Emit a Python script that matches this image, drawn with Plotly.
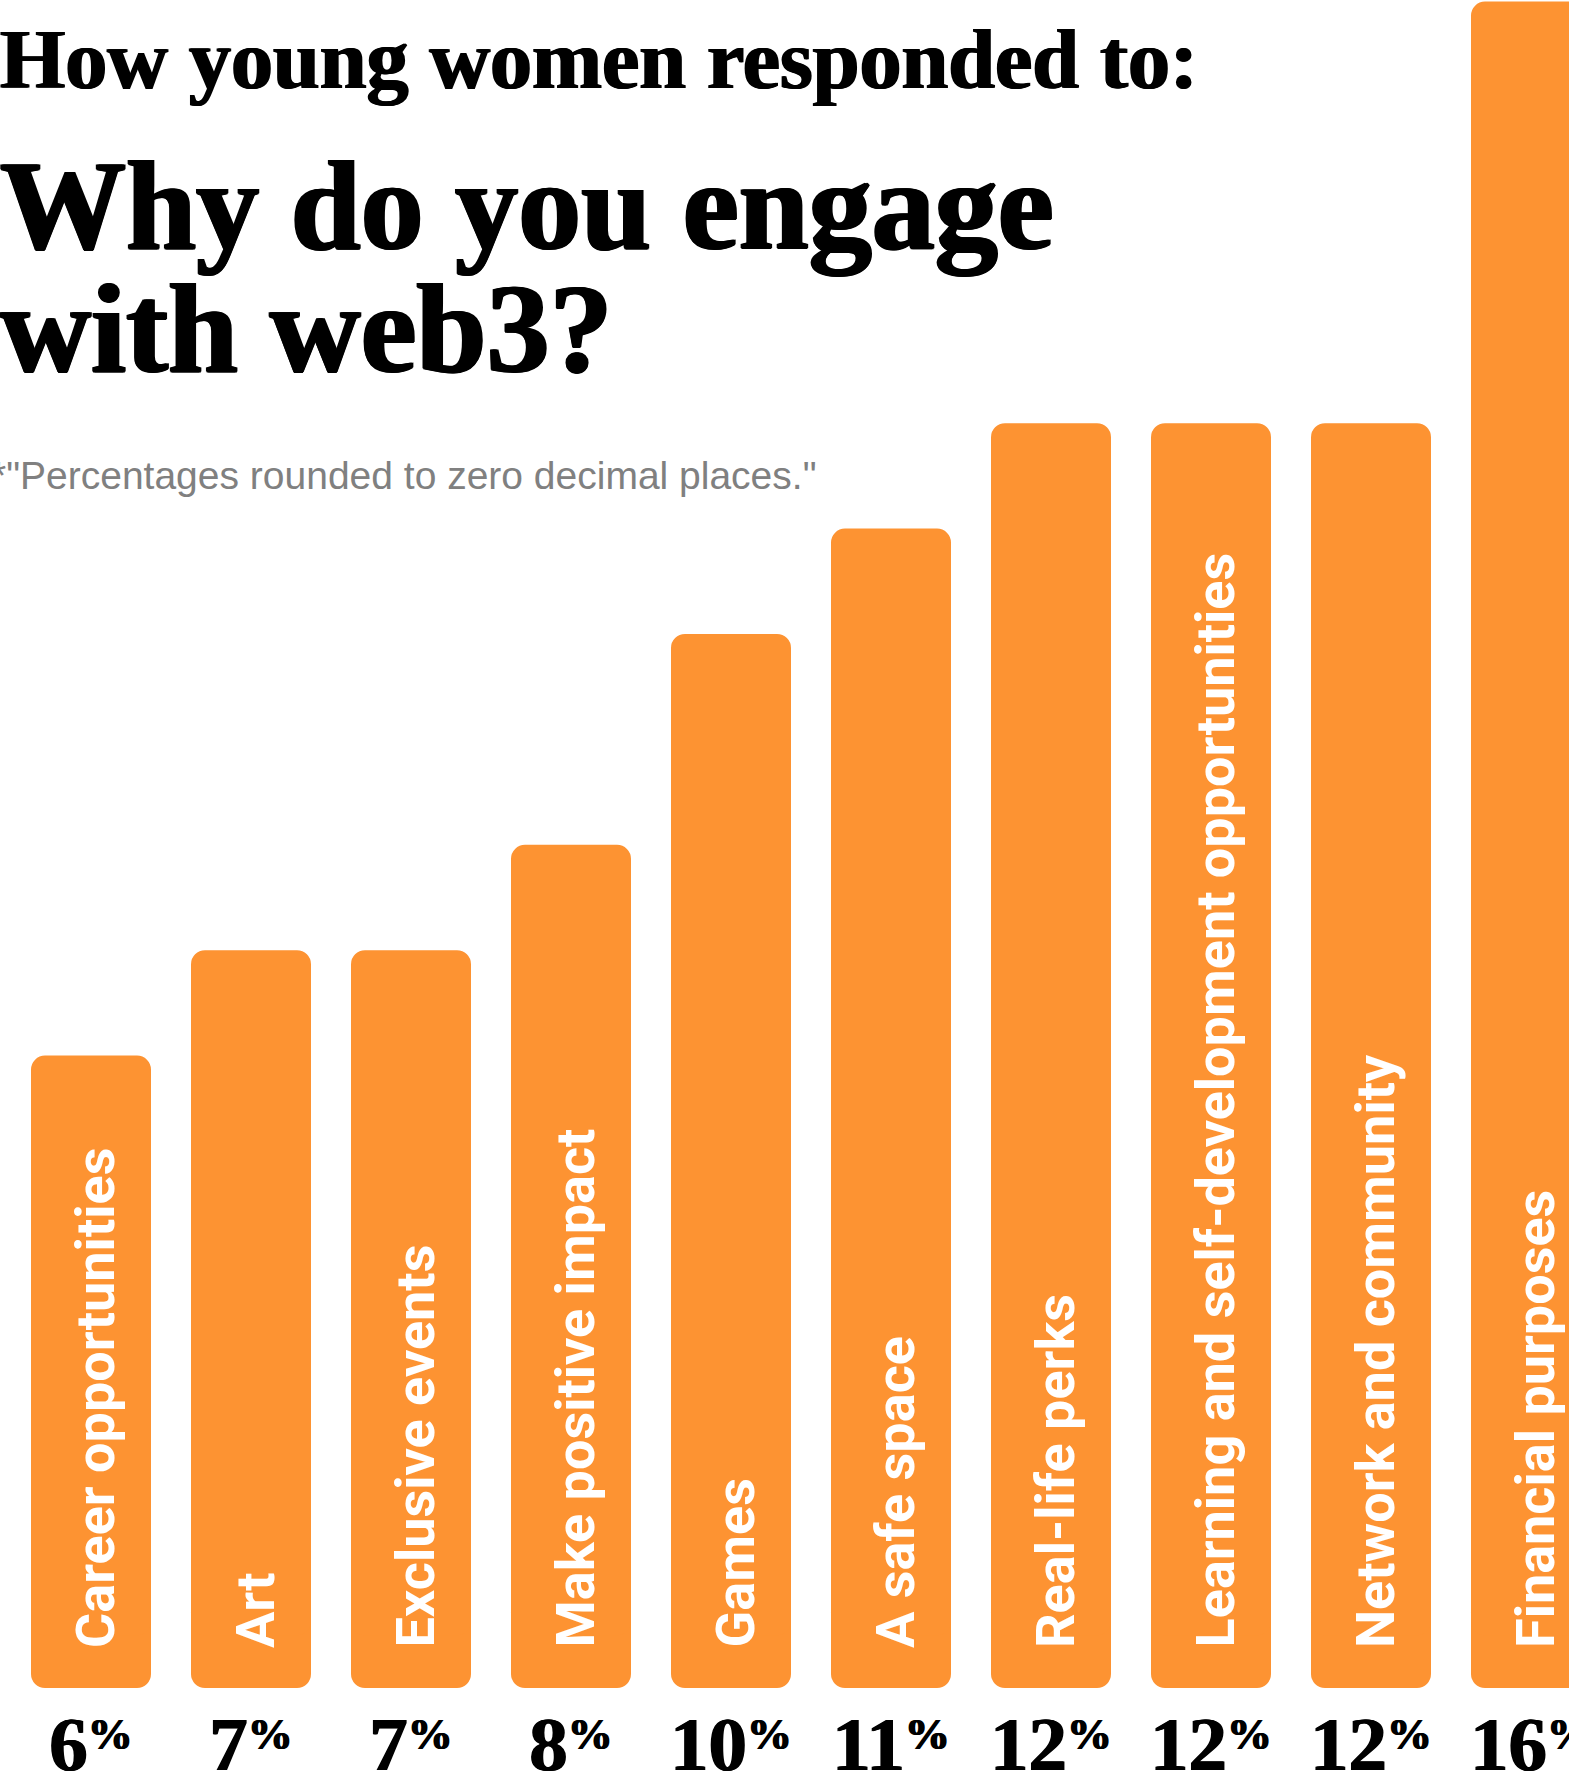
import plotly.graph_objects as go

# Survey answers, ordered from smallest to largest share
categories = [
    "Career opportunities",
    "Art",
    "Exclusive events",
    "Make positive impact",
    "Games",
    "A safe space",
    "Real-life perks",
    "Learning and self-development opportunities",
    "Network and community",
    "Financial purposes",
]
values = [6, 7, 7, 8, 10, 11, 12, 12, 12, 16]
pct_labels = [
    f'{v}<sup><sub><span style="font-size:45px">%</span></sub></sup>' for v in values
]

ORANGE = "#FD9332"
W, H = 1569, 1773
PLOT_BOTTOM_PX = 1688          # baseline of the bars in page pixels
PX_PER_CAT = 160               # spacing between bar centres
FIRST_CENTER_PX = 91

xs = list(range(len(categories)))

# Bars are drawn as two overlaid pieces so that both ends get rounded corners:
# the upper piece rounds the top, the lower (negative) piece rounds the bottom.
split = 0.5
overlap = 0.35
fig = go.Figure()
fig.add_trace(go.Bar(
    x=xs, y=[-(split + overlap)] * len(xs), base=split + overlap, width=0.75,
    marker=dict(color=ORANGE, cornerradius=14, line=dict(width=0)),
    hoverinfo="skip", showlegend=False,
))
fig.add_trace(go.Bar(
    x=xs, y=[v - split for v in values], base=split, width=0.75,
    marker=dict(color=ORANGE, cornerradius=14, line=dict(width=0)),
    hoverinfo="skip", showlegend=False,
))

# Category names written up the inside of each bar
for i, name in enumerate(categories):
    fig.add_annotation(
        x=i, y=0.37, xref="x", yref="y", text=name, showarrow=False,
        textangle=-90, xanchor="center", yanchor="bottom", xshift=4,
        borderpad=0,
        font=dict(family="Roboto", size=54, color="white", weight=700),
    )

x0 = -FIRST_CENTER_PX / PX_PER_CAT
x1 = x0 + W / PX_PER_CAT
ymax = 16.015


def paper_y(px):
    return (PLOT_BOTTOM_PX - px) / PLOT_BOTTOM_PX


# Heavy display serif: bold face with a thin horizontal shadow to thicken the stems
SERIF = "Liberation Serif, serif"
HEAVY = "1.4px 0 0 #000, -1.4px 0 0 #000, 0.7px 0.5px 0 #000, -0.7px 0.5px 0 #000"
title_lines = [
    ("How young women responded to:", 84, 60, "1px 0 0 #000, -1px 0 0 #000"),
    ("Why do you engage", 126, 206, HEAVY),
    ("with web3?", 126, 328, HEAVY),
]
for txt, size, cy, shadow in title_lines:
    fig.add_annotation(
        x=0, y=paper_y(cy), xref="paper", yref="paper", text=txt,
        showarrow=False, xanchor="left", yanchor="middle", xshift=-1,
        borderpad=0,
        font=dict(family=SERIF, size=size, color="black", weight=700, shadow=shadow),
    )

fig.add_annotation(
    x=0, y=paper_y(476), xref="paper", yref="paper",
    text="*\"Percentages rounded to zero decimal places.\"",
    showarrow=False, xanchor="left", yanchor="middle", xshift=-10,
    borderpad=0,
    font=dict(family="Liberation Sans", size=39, color="#808080"),
)

fig.update_layout(
    width=W, height=H,
    margin=dict(l=0, r=0, t=0, b=H - PLOT_BOTTOM_PX, pad=0, autoexpand=False),
    paper_bgcolor="white", plot_bgcolor="white",
    barmode="overlay",
    xaxis=dict(
        range=[x0, x1], tickmode="array", tickvals=xs, ticktext=pct_labels,
        showgrid=False, zeroline=False, showline=False, ticks="",
        automargin=False, ticklabelstandoff=4, ticklabeloverflow="allow",
        tickfont=dict(family="Liberation Serif", size=77, color="black", weight=700,
                      shadow="0.8px 0 0 #000, -0.8px 0 0 #000"),
        fixedrange=True,
    ),
    yaxis=dict(
        range=[0, ymax], visible=False, showgrid=False, zeroline=False,
        automargin=False, fixedrange=True,
    ),
)

fig.write_html("out.html")
